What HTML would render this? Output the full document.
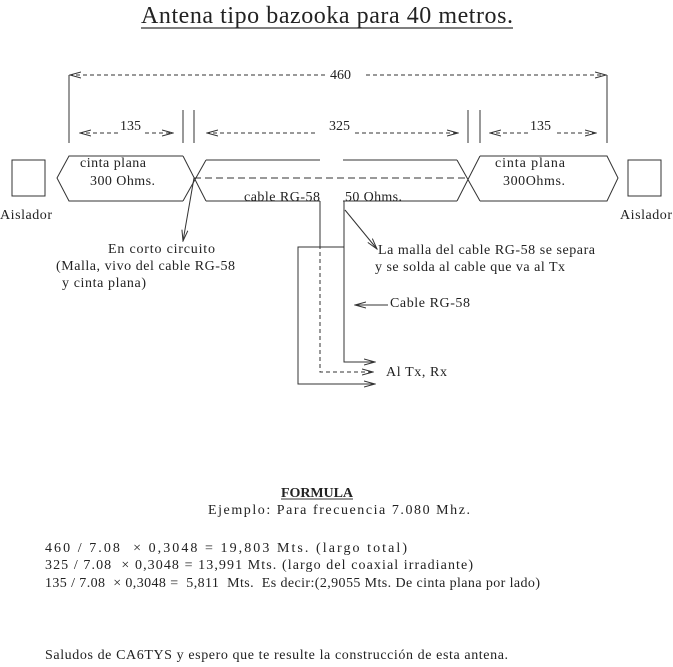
<!DOCTYPE html>
<html><head><meta charset="utf-8"><style>
html,body{margin:0;padding:0;background:#fff;}
svg{display:block}
text{font-family:"Liberation Serif",serif;font-size:14px;fill:#222;white-space:pre;}
</style></head><body>
<svg width="673" height="667" viewBox="0 0 673 667" xmlns="http://www.w3.org/2000/svg" xml:space="preserve">
<defs>
<marker id="a" markerWidth="12" markerHeight="8" refX="11" refY="4" orient="auto" markerUnits="userSpaceOnUse">
<path d="M0,1 L11,4 L0,7" fill="none" stroke="#333" stroke-width="1"/></marker>
</defs>
<text x="141" y="23" style="font-size:24px" textLength="372" lengthAdjust="spacing">Antena tipo bazooka para 40 metros.</text>
<line x1="141" y1="28" x2="513" y2="28" stroke="#333" stroke-width="1.2"/>
<g stroke="#333" stroke-width="1" fill="none">
<line x1="69" y1="75" x2="69" y2="143"/>
<line x1="607" y1="75" x2="607" y2="143"/>
<line x1="325" y1="75" x2="70" y2="75" stroke-dasharray="4,3" marker-end="url(#a)"/>
<line x1="366" y1="75" x2="606" y2="75" stroke-dasharray="4,3" marker-end="url(#a)"/>
<line x1="183" y1="110" x2="183" y2="143"/><line x1="194" y1="110" x2="194" y2="143"/>
<line x1="468" y1="110" x2="468" y2="143"/><line x1="480" y1="110" x2="480" y2="143"/>
<line x1="118" y1="133" x2="80" y2="133" stroke-dasharray="4,3" marker-end="url(#a)"/>
<line x1="145" y1="133" x2="173" y2="133" stroke-dasharray="4,3" marker-end="url(#a)"/>
<line x1="315" y1="133" x2="207" y2="133" stroke-dasharray="4,3" marker-end="url(#a)"/>
<line x1="355" y1="133" x2="458" y2="133" stroke-dasharray="4,3" marker-end="url(#a)"/>
<line x1="528" y1="133" x2="490" y2="133" stroke-dasharray="4,3" marker-end="url(#a)"/>
<line x1="557" y1="133" x2="596" y2="133" stroke-dasharray="4,3" marker-end="url(#a)"/>
<polyline points="183,156 69,156 57,178 69,201 183,201"/>
<line x1="183" y1="156" x2="206" y2="201"/><line x1="183" y1="201" x2="206" y2="160"/>
<line x1="206" y1="160" x2="320" y2="160"/><line x1="206" y1="201" x2="320" y2="201"/>
<line x1="343" y1="160" x2="457" y2="160"/><line x1="343" y1="201" x2="457" y2="201"/>
<line x1="457" y1="160" x2="480" y2="201"/><line x1="457" y1="201" x2="480" y2="156"/>
<polyline points="480,156 607,156 618,178 607,201 480,201"/>
<line x1="194" y1="178" x2="468" y2="178" stroke-dasharray="7,4"/>
<rect x="12" y="160" width="33" height="36"/>
<rect x="628" y="160" width="33" height="36"/>
<line x1="320" y1="201" x2="320" y2="245"/>
<polyline points="320,245 320,372 373,372" stroke-dasharray="4,3" marker-end="url(#a)"/>
<polyline points="344,201 344,362 375,362" marker-end="url(#a)"/>
<polyline points="344,247 298,247 298,384 375,384" marker-end="url(#a)"/>
<line x1="345" y1="210" x2="377" y2="249" marker-end="url(#a)"/>
<line x1="388" y1="305" x2="355" y2="305" marker-end="url(#a)"/>
<line x1="194" y1="178" x2="183" y2="241" marker-end="url(#a)"/>
</g>
<text x="330" y="79">460</text>
<text x="120" y="130">135</text>
<text x="329" y="130">325</text>
<text x="530" y="130">135</text>
<text x="80" y="167" textLength="66" lengthAdjust="spacing">cinta plana</text>
<text x="90" y="185" textLength="65" lengthAdjust="spacing">300 Ohms.</text>
<text x="495" y="167" textLength="70" lengthAdjust="spacing">cinta plana</text>
<text x="503" y="185" textLength="62" lengthAdjust="spacing">300Ohms.</text>
<text x="244" y="201" textLength="76" lengthAdjust="spacing">cable RG-58</text>
<text x="345" y="201" textLength="57" lengthAdjust="spacing">50 Ohms.</text>
<text x="0" y="219" textLength="52" lengthAdjust="spacing">Aislador</text>
<text x="620" y="219" textLength="52" lengthAdjust="spacing">Aislador</text>
<text x="108" y="253" textLength="107" lengthAdjust="spacing">En corto circuito</text>
<text x="56" y="270" textLength="179" lengthAdjust="spacing">(Malla, vivo del cable RG-58</text>
<text x="62" y="287" textLength="84" lengthAdjust="spacing">y cinta plana)</text>
<text x="378" y="254" textLength="217" lengthAdjust="spacing">La malla del cable RG-58 se separa</text>
<text x="375" y="271" textLength="190" lengthAdjust="spacing">y se solda al cable que va al Tx</text>
<text x="390" y="307" textLength="80" lengthAdjust="spacing">Cable RG-58</text>
<text x="386" y="376" textLength="61" lengthAdjust="spacing">Al Tx, Rx</text>
<text x="281" y="497" style="font-weight:bold" textLength="72" lengthAdjust="spacing">FORMULA</text>
<line x1="281" y1="499" x2="353" y2="499" stroke="#333" stroke-width="1"/>
<text x="208" y="514" textLength="262" lengthAdjust="spacing">Ejemplo: Para frecuencia 7.080 Mhz.</text>
<text x="45" y="552" textLength="362" lengthAdjust="spacing">460 / 7.08  × 0,3048 = 19,803 Mts. (largo total)</text>
<text x="45" y="569" textLength="428" lengthAdjust="spacing">325 / 7.08  × 0,3048 = 13,991 Mts. (largo del coaxial irradiante)</text>
<text x="45" y="587" textLength="495" lengthAdjust="spacing">135 / 7.08  × 0,3048 =  5,811  Mts.  Es decir:(2,9055 Mts. De cinta plana por lado)</text>
<text x="45" y="659" textLength="463" lengthAdjust="spacing">Saludos de CA6TYS y espero que te resulte la construcción de esta antena.</text>
</svg>
</body></html>
